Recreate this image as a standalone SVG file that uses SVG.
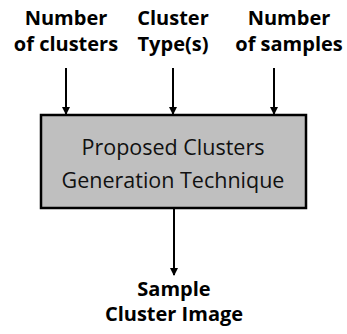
<svg xmlns="http://www.w3.org/2000/svg" width="347" height="334" viewBox="0 0 347 334">
<style>
.lbl{font-family:"Open Sans","Liberation Sans",sans-serif;font-weight:bold;font-size:20px;fill:#000;text-anchor:middle}
.box{font-family:"Open Sans","Liberation Sans",sans-serif;font-size:21.5px;fill:#111;text-anchor:middle}
.c{stroke:#000;stroke-width:2;fill:none}
</style>
<defs>
<marker id="ah" markerWidth="8" markerHeight="8" refX="7" refY="4" orient="auto" markerUnits="userSpaceOnUse">
<path d="M0,0 L8,4 L0,8 Z" fill="#000"/>
</marker>
</defs>
<rect width="347" height="334" fill="#fff"/>
<g id="in1"><text class="lbl" x="66" y="25">Number</text><text class="lbl" x="66" y="51">of clusters</text></g>
<g id="in2"><text class="lbl" x="173" y="25">Cluster</text><text class="lbl" x="173" y="51">Type(s)</text></g>
<g id="in3"><text class="lbl" x="289" y="25">Number</text><text class="lbl" x="289" y="51">of samples</text></g>
<g id="proc"><rect x="41" y="115" width="265" height="93" fill="#bfbfbf" stroke="#000" stroke-width="2.5"/>
<text class="box" x="173" y="155">Proposed Clusters</text><text class="box" x="173" y="188">Generation Technique</text></g>
<g id="out"><text class="lbl" x="174" y="296">Sample</text><text class="lbl" x="174" y="321">Cluster Image</text></g>
<g id="connectors">
<line class="c" x1="66" y1="68" x2="66" y2="114" marker-end="url(#ah)"/>
<line class="c" x1="173" y1="68" x2="173" y2="114" marker-end="url(#ah)"/>
<line class="c" x1="274" y1="68" x2="274" y2="114" marker-end="url(#ah)"/>
<line class="c" x1="174" y1="209" x2="174" y2="275" marker-end="url(#ah)"/>
</g>
</svg>
